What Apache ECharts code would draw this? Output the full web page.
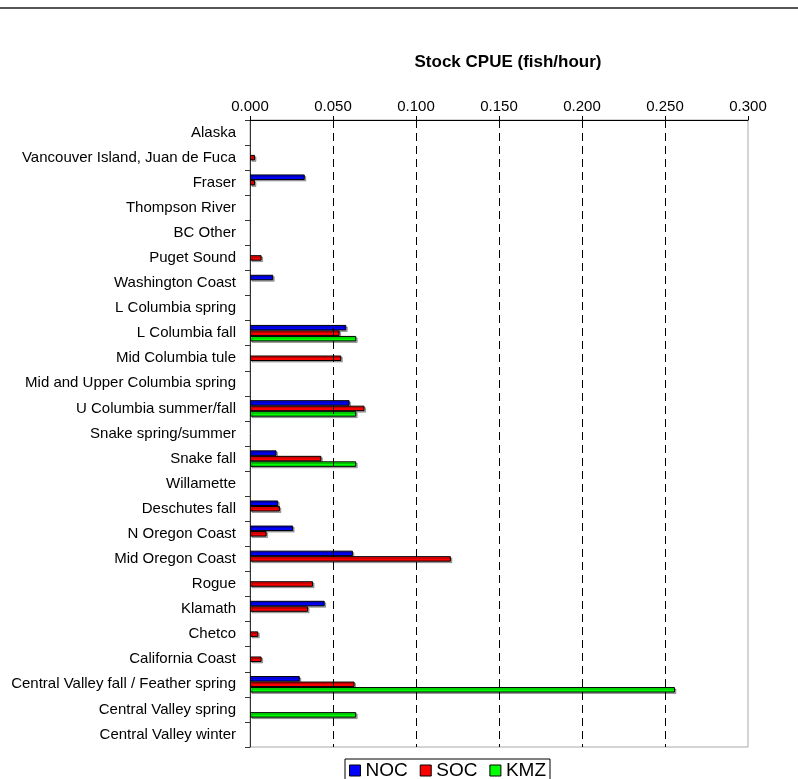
<!DOCTYPE html>
<html>
<head>
<meta charset="utf-8">
<script src="https://cdn.jsdelivr.net/npm/echarts@6/dist/echarts.min.js"></script>
<style>html,body{margin:0;padding:0;background:#fff}#c{width:798px;height:779px}</style>
</head>
<body>
<div id="c"></div>
<script>
const categories = ["Alaska","Vancouver Island, Juan de Fuca","Fraser","Thompson River","BC Other","Puget Sound","Washington Coast","L Columbia spring","L Columbia fall","Mid Columbia tule","Mid and Upper Columbia spring","U Columbia summer/fall","Snake spring/summer","Snake fall","Willamette","Deschutes fall","N Oregon Coast","Mid Oregon Coast","Rogue","Klamath","Chetco","California Coast","Central Valley fall / Feather spring","Central Valley spring","Central Valley winter"];
const noc = [null,null,0.033,null,null,null,0.014,null,0.058,null,null,0.060,null,0.016,null,0.017,0.026,0.062,null,0.045,null,null,0.030,null,null];
const soc = [null,0.003,0.003,null,null,0.007,null,null,0.054,0.055,null,0.069,null,0.043,null,0.018,0.010,0.121,0.038,0.035,0.005,0.007,0.063,null,null];
const kmz = [null,null,null,null,null,null,null,null,0.064,null,null,0.064,null,0.064,null,null,null,null,null,null,null,null,0.256,0.064,null];
const seriesNames = ["NOC","SOC","KMZ"];
const gridValues = [0.05,0.10,0.15,0.20,0.25];
const xMin = 0, xMax = 0.3, xStep = 0.05;

const colors = ["#0000FF","#FF0000","#00FF00"];
const font = "Liberation Sans, Arial, sans-serif";
const chart = echarts.init(document.getElementById('c'), null, {renderer:'canvas'});
const barStyle = c => ({color:c, borderColor:'#000', borderWidth:1, shadowColor:'rgba(0,0,0,0.3)', shadowOffsetX:1.5, shadowOffsetY:1.5, shadowBlur:0});
const mk = (name, data, i) => ({
  name, type:'bar', data, barWidth:5.5, barGap:'0%',
  itemStyle: barStyle(colors[i]),
  emphasis:{disabled:true},
  markLine: i===0 ? {
    silent:true, symbol:['none','none'], label:{show:false},
    lineStyle:{color:'#000', type:[8,5], width:1},
    emphasis:{disabled:true},
    data: gridValues.map(v=>({xAxis:v}))
  } : undefined
});
chart.setOption({
  animation:false,
  title:{text:'Stock CPUE (fish/hour)', left:503, top:49, textAlign:'center',
    textStyle:{fontFamily:font, fontSize:17, fontWeight:'bold', color:'#000'}},
  graphic:[{type:'line', shape:{x1:0,y1:8,x2:798,y2:8}, style:{stroke:'#555', lineWidth:2}}],
  grid:{left:250, right:50, top:120, bottom:32, show:true, borderColor:'#aaa', borderWidth:1},
  legend:{data:seriesNames, left:345, top:759, orient:'horizontal', icon:'rect',
    itemWidth:11, itemHeight:11, itemGap:12, padding:[2,4,2,4],
    borderColor:'#000', borderWidth:1,
    textStyle:{fontFamily:font, fontSize:19, color:'#000'},
    itemStyle:{borderColor:'#000', borderWidth:1}},
  xAxis:{type:'value', position:'top', min:xMin, max:xMax, interval:xStep,
    axisLine:{show:true, lineStyle:{color:'#000', width:1}},
    axisTick:{show:true, length:4, lineStyle:{color:'#000'}},
    splitLine:{show:false},
    axisLabel:{margin:6, fontFamily:font, fontSize:15, color:'#000', formatter:v=>v.toFixed(3)}},
  yAxis:{type:'category', data:categories, inverse:true,
    axisLine:{show:true, lineStyle:{color:'#333', width:1}},
    axisTick:{show:true, length:5, lineStyle:{color:'#333'}},
    splitLine:{show:false},
    axisLabel:{margin:14, fontFamily:font, fontSize:15, color:'#000', interval:0}},
  series:[mk('NOC',noc,0), mk('SOC',soc,1), mk('KMZ',kmz,2)]
});
</script>
</body>
</html>
